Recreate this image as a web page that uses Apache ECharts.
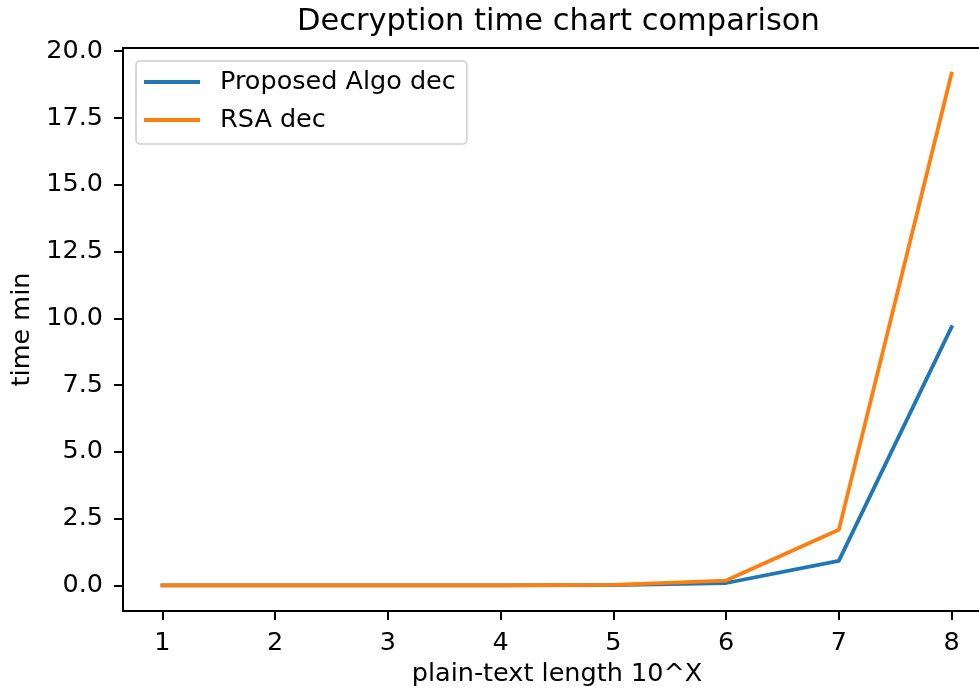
<!DOCTYPE html>
<html>
<head>
<meta charset="utf-8">
<script src="https://cdn.jsdelivr.net/npm/echarts@6/dist/echarts.min.js"></script>
<style>
  html, body { margin: 0; padding: 0; background: #fff; }
  #chart { width: 979px; height: 693px; }
</style>
</head>
<body>
<div id="chart"></div>
<script>
// plain-text length exponent (10^X)
const xValues = [1, 2, 3, 4, 5, 6, 7, 8]
// decryption time in minutes
const proposedDec = [0, 0, 0, 0.001, 0.01, 0.09, 0.92, 9.67]
const rsaDec = [0, 0, 0, 0.002, 0.02, 0.18, 2.08, 19.16]
const yTicks = [0, 2.5, 5, 7.5, 10, 12.5, 15, 17.5, 20]

const FONT = 'DejaVu Sans'
const pairs = ys => xValues.map((x, i) => [x, ys[i]])
const spine = { show: true, onZero: false, lineStyle: { color: '#000', width: 2 } }
const tick = vals => ({ show: true, length: 9, lineStyle: { color: '#000', width: 2 }, customValues: vals })

const chart = echarts.init(document.getElementById('chart'), null, { renderer: 'canvas' })

chart.setOption({
  animation: false,
  textStyle: { fontFamily: FONT, color: '#000' },
  title: {
    text: 'Decryption time chart comparison',
    left: 292,
    top: 2,
    textStyle: { fontFamily: FONT, fontSize: 30.5, fontWeight: 'normal', color: '#000' },
  },
  // axes box runs past the right edge of the picture, like the reference
  grid: {
    left: 123, right: -12, top: 48, bottom: 82,
    outerBoundsMode: 'none', containLabel: false,
  },
  legend: {
    orient: 'vertical',
    left: 136,
    top: 61,
    icon: 'rect',
    itemWidth: 56,
    itemHeight: 4,
    itemGap: 8,
    padding: [6, 11, 9, 8],
    borderColor: '#cccccc',
    borderWidth: 1.5,
    borderRadius: 4,
    backgroundColor: 'rgba(255,255,255,0.8)',
    textStyle: { fontFamily: FONT, fontSize: 25.5, color: '#000', lineHeight: 30, padding: [0, 0, 0, 15] },
    data: ['Proposed Algo dec', 'RSA dec'],
  },
  xAxis: [
    {
      type: 'value',
      position: 'bottom',
      min: 0.65,
      max: 8.35,
      name: 'plain-text length 10^X',
      nameLocation: 'middle',
      nameGap: 45,
      nameTextStyle: { fontFamily: FONT, fontSize: 25.5, color: '#000' },
      axisLine: spine,
      axisTick: tick(xValues),
      axisLabel: { fontFamily: FONT, fontSize: 25.5, color: '#000', margin: 19, customValues: xValues },
      splitLine: { show: false },
    },
    {
      // top spine only
      type: 'value',
      position: 'top',
      min: 0.65,
      max: 8.35,
      axisLine: spine,
      axisTick: { show: false },
      axisLabel: { show: false },
      splitLine: { show: false },
    },
  ],
  yAxis: {
    type: 'value',
    min: -0.958,
    max: 20.12,
    name: 'time min',
    nameLocation: 'middle',
    nameGap: 84,
    nameTextStyle: { fontFamily: FONT, fontSize: 25.5, color: '#000' },
    axisLine: spine,
    axisTick: tick(yTicks),
    axisLabel: {
      fontFamily: FONT, fontSize: 25.5, color: '#000', margin: 20,
      customValues: yTicks,
      formatter: v => v.toFixed(1),
    },
    splitLine: { show: false },
  },
  series: [
    {
      name: 'Proposed Algo dec',
      type: 'line',
      data: pairs(proposedDec),
      symbol: 'none',
      color: '#1f77b4',
      lineStyle: { color: '#1f77b4', width: 3.8, join: 'round', cap: 'square' },
    },
    {
      name: 'RSA dec',
      type: 'line',
      data: pairs(rsaDec),
      symbol: 'none',
      color: '#ff7f0e',
      lineStyle: { color: '#ff7f0e', width: 3.8, join: 'round', cap: 'square' },
    },
  ],
})
</script>
</body>
</html>
